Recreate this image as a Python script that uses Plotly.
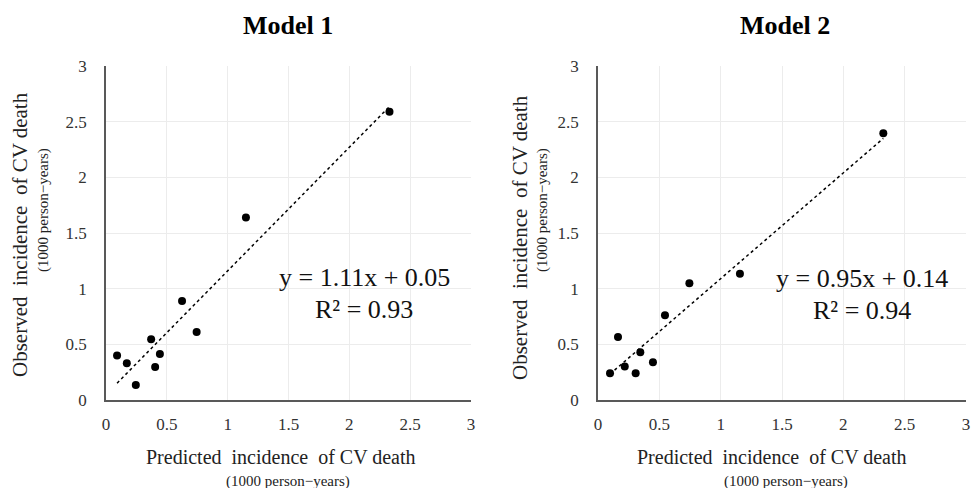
import plotly.graph_objects as go

# Model 1 data (predicted vs observed incidence, per 1000 person-years)
m1_pred = [2.33, 1.15, 0.625, 0.745, 0.371, 0.443, 0.404, 0.091, 0.171, 0.245]
m1_obs = [2.59, 1.64, 0.89, 0.61, 0.545, 0.413, 0.296, 0.40, 0.33, 0.135]
m1_slope, m1_intercept, m1_r2 = 1.11, 0.05, 0.93

# Model 2 data
m2_pred = [2.326, 1.157, 0.745, 0.546, 0.163, 0.345, 0.448, 0.218, 0.307, 0.098]
m2_obs = [2.396, 1.135, 1.048, 0.761, 0.566, 0.428, 0.339, 0.30, 0.24, 0.24]
m2_slope, m2_intercept, m2_r2 = 0.95, 0.14, 0.94

titles = ["Model 1", "Model 2"]
tick_vals = [0, 0.5, 1, 1.5, 2, 2.5, 3]
tick_text = ["0", "0.5", "1", "1.5", "2", "2.5", "3"]

FONT = "Liberation Serif"
W, H = 971, 488

fig = go.Figure()

dom_x = [[106 / W, 471 / W], [598 / W, 966 / W]]
dom_y = [1 - 400 / H, 1 - 66 / H]

models = [
    (m1_pred, m1_obs, m1_slope, m1_intercept, m1_r2),
    (m2_pred, m2_obs, m2_slope, m2_intercept, m2_r2),
]

for i, (xp, yo, a, b, r2) in enumerate(models):
    xa = "x" if i == 0 else "x2"
    ya = "y" if i == 0 else "y2"
    x0, x1 = min(xp), max(xp)
    fig.add_trace(go.Scatter(
        x=[x0, x1], y=[a * x0 + b, a * x1 + b], mode="lines",
        line=dict(color="black", width=1.5, dash="dot"),
        xaxis=xa, yaxis=ya, showlegend=False, hoverinfo="skip"))
    fig.add_trace(go.Scatter(
        x=xp, y=yo, mode="markers",
        marker=dict(color="black", size=8),
        xaxis=xa, yaxis=ya, showlegend=False))

axis_common = dict(
    range=[0, 3], tickvals=tick_vals, ticktext=tick_text,
    showgrid=True, gridcolor="#ececec", gridwidth=1,
    showline=True, linecolor="#595959", linewidth=1.5,
    zeroline=False, ticks="", fixedrange=True, automargin=False,
    ticklabeloverflow="allow",
    tickfont=dict(family=FONT, size=17, color="#333333"),
)

fig.update_layout(
    template="none",
    width=W, height=H,
    margin=dict(l=0, r=0, t=0, b=0, autoexpand=False),
    paper_bgcolor="white", plot_bgcolor="white",
    font=dict(family=FONT, color="black"),
    xaxis=dict(domain=dom_x[0], anchor="y", **axis_common),
    yaxis=dict(domain=dom_y, anchor="x", **axis_common),
    xaxis2=dict(domain=dom_x[1], anchor="y2", **axis_common),
    yaxis2=dict(domain=dom_y, anchor="x2", **axis_common),
)
fig.update_xaxes(ticklabelstandoff=8)
fig.update_yaxes(ticklabelstandoff=14)

ann = []


def add(x_px, y_px, text, size, color="#222222", angle=0):
    ann.append(dict(x=x_px / W, y=1 - y_px / H, xref="paper", yref="paper",
                    xanchor="center", yanchor="middle",
                    text=text, showarrow=False, textangle=angle,
                    font=dict(family=FONT, size=size, color=color)))


title_x = [288, 785]
xt_x = [281, 772]
xs_x = [288, 786]
yt_x = [20, 520]
yt_y = [235, 238]
ys_x = [43, 542]
for i in range(2):
    add(title_x[i], 25, "<b>%s</b>" % titles[i], 26, "black")
    add(xt_x[i], 457, "Predicted  incidence  of CV death", 20)
    add(xs_x[i], 481, "(1000 person\u2212years)", 15)
    add(yt_x[i], yt_y[i], "Observed  incidence  of CV death", 21, angle=-90)
    add(ys_x[i], 210, "(1000 person\u2212years)", 15, angle=-90)

# regression equations
eq_pos = [(364, 277, 309), (862, 278, 310)]
for i, (xp, yo, a, b, r2) in enumerate(models):
    cx, ey, ry = eq_pos[i]
    add(cx, ey, "y = %.2fx + %.2f" % (a, b), 26, "#111111")
    add(cx, ry, "R\u00b2 = %.2f" % r2, 26, "#111111")

fig.update_layout(annotations=ann)
fig.write_html("out.html")
